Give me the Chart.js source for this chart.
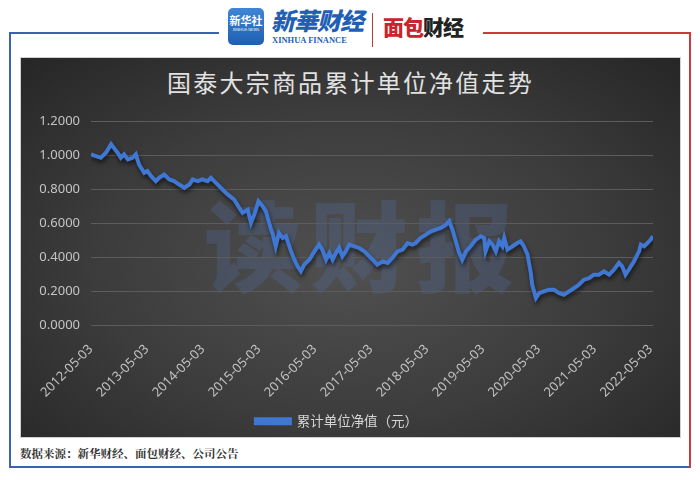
<!DOCTYPE html>
<html>
<head>
<meta charset="utf-8">
<script src="https://cdn.jsdelivr.net/npm/chart.js@4.4.0/dist/chart.umd.min.js"></script>
<style>
  body { margin: 0; width: 700px; height: 480px; background: #fff; position: relative; overflow: hidden;
         font-family: "Noto Sans CJK SC", "Noto Sans", sans-serif; }
  .line { position: absolute; }
  #panel { position: absolute; left: 20px; top: 57px; width: 661px; height: 381px; box-sizing: border-box;
           border: 1px solid #d0d0d0;
           background: radial-gradient(ellipse 70% 75% at 50% 55%, #505050 0%, #3c3c3c 55%, #272727 100%); }
  #title { position: absolute; left: 0; top: 9px; width: 100%; text-align: center; color: #e2e2e2;
           font-size: 24px; letter-spacing: 2.2px; line-height: 30px; }
  #wm { position: absolute; left: 183px; top: 133px; font-size: 98px; line-height: 100px; font-weight: 900;
        letter-spacing: 8px; color: rgba(85,125,195,0.22); white-space: nowrap; }
  #chart { position: absolute; left: 0; top: 0; }
  #source { position: absolute; left: 20px; top: 445px; font-size: 11.5px; font-weight: bold; color: #333;
            font-family: "Noto Serif CJK SC", "Noto Sans CJK SC", serif; }
  .xh { position: absolute; left: 228px; top: 8px; width: 36px; height: 37px; border-radius: 5px;
        background: linear-gradient(#3f86d6, #1e5fb0); color: #fff; text-align: center; }
</style>
</head>
<body>
<!-- frame -->
<div class="line" style="left:9px;top:32px;width:2px;height:436px;background:#3a64ad"></div>
<div class="line" style="left:9px;top:466px;width:682px;height:2px;background:#3a64ad"></div>
<div class="line" style="left:9px;top:32px;width:210px;height:2px;background:#3a64ad"></div>
<div class="line" style="left:483px;top:32px;width:208px;height:2px;background:#cc3b3b"></div>
<div class="line" style="left:689px;top:32px;width:2px;height:436px;background:#cc3b3b"></div>

<!-- header logos -->
<div class="xh"><div style="font-size:11px;font-weight:bold;line-height:14px;margin-top:5px">新华社</div>
  <div style="font-size:4px;line-height:5px">XINHUA NEWS</div></div>
<div style="position:absolute;left:271px;top:5px;font-size:24px;line-height:30px;font-weight:900;font-style:italic;color:#1f5fb4;letter-spacing:-1px">新華财经</div>
<div style="position:absolute;left:272px;top:35px;font-size:8.5px;line-height:10px;font-weight:bold;color:#1f5fb4;font-family:'Liberation Serif',serif">XINHUA FINANCE</div>
<div class="line" style="left:372px;top:13px;width:1px;height:34px;background:#b04040"></div>
<div style="position:absolute;left:383px;top:12px;font-size:21px;line-height:28px;font-weight:900;letter-spacing:-1px">
  <span style="color:#c8262c">面包</span><span style="color:#222">财经</span></div>

<div id="panel">
  <div id="title">国泰大宗商品累计单位净值走势</div>
  <div id="wm">读财报</div>
  <canvas id="chart" width="661" height="381"></canvas>
</div>
<div id="source">数据来源：新华财经、面包财经、公司公告</div>

<script>
// months since 2012-05-03
const monthOffsets = [
  0, 2.1, 3.2, 4.3, 5.7, 6.4, 7.1, 7.9, 8.9, 9.6, 10.3, 11.4, 12.1, 12.9, 13.9, 14.6, 15.7, 16.8, 17.8, 18.9,
  20.0, 21.1, 21.8, 22.9, 23.9, 25.0, 25.7, 26.8, 28.2, 29.3, 30.7, 31.8, 32.5, 33.6, 34.3, 35.0, 35.9, 36.8, 37.5, 37.9,
  38.6, 39.0, 39.6, 40.3, 41.1, 41.8, 42.9, 43.6, 44.3, 45.0, 45.7, 46.8, 47.9, 48.9, 49.6, 50.4, 51.1, 51.8, 52.5, 53.2,
  53.9, 54.6, 55.4, 56.4, 57.5, 58.6, 59.3, 60.4, 61.4, 62.5, 63.6, 64.6, 65.7, 66.8, 67.9, 68.9, 69.6, 70.7, 71.8, 72.9,
  73.9, 75.0, 76.1, 76.8, 77.5, 78.2, 78.9, 79.6, 80.4, 81.4, 82.5, 83.6, 84.3, 84.6, 85.4, 86.1, 86.8, 87.5, 88.2, 88.6,
  89.3, 90.4, 91.4, 92.1, 92.8, 93.6, 94.3, 94.6, 95.4, 96.1, 97.1, 98.2, 99.3, 100.4, 101.4, 102.5, 103.6, 104.6, 105.7, 106.8,
  107.8, 108.9, 110.0, 111.1, 112.1, 113.2, 113.9, 114.6, 115.3, 116.4, 117.5, 117.9, 118.6, 119.3, 120.0, 120.5
];
const navValues = [
  1.004, 0.984, 1.014, 1.063, 1.014, 0.984, 1.004, 0.975, 0.984, 1.004, 0.945, 0.896, 0.906, 0.876, 0.847, 0.866, 0.886, 0.857, 0.847, 0.827,
  0.808, 0.827, 0.857, 0.847, 0.857, 0.847, 0.866, 0.837, 0.798, 0.769, 0.739, 0.690, 0.661, 0.680, 0.602, 0.651, 0.729, 0.700, 0.670, 0.631,
  0.563, 0.533, 0.465, 0.543, 0.514, 0.524, 0.435, 0.386, 0.347, 0.318, 0.357, 0.386, 0.435, 0.475, 0.445, 0.386, 0.425, 0.386, 0.425, 0.455,
  0.406, 0.435, 0.475, 0.465, 0.455, 0.435, 0.416, 0.386, 0.357, 0.376, 0.367, 0.396, 0.435, 0.445, 0.484, 0.475, 0.484, 0.514, 0.533, 0.553,
  0.563, 0.573, 0.592, 0.612, 0.563, 0.494, 0.430, 0.386, 0.435, 0.465, 0.504, 0.524, 0.514, 0.435, 0.494, 0.475, 0.435, 0.494, 0.465, 0.514,
  0.445, 0.465, 0.484, 0.494, 0.465, 0.416, 0.308, 0.239, 0.161, 0.190, 0.200, 0.210, 0.210, 0.190, 0.180, 0.200, 0.220, 0.239, 0.269, 0.278,
  0.298, 0.298, 0.318, 0.298, 0.327, 0.367, 0.347, 0.298, 0.327, 0.376, 0.435, 0.475, 0.465, 0.484, 0.504, 0.524
];
const tickLabels = ['2012-05-03', '2013-05-03', '2014-05-03', '2015-05-03', '2016-05-03', '2017-05-03',
  '2018-05-03', '2019-05-03', '2020-05-03', '2021-05-03', '2022-05-03'];
const seriesName = '累计单位净值（元）';

const lineShadow = {
  id: 'lineShadow',
  beforeDatasetDraw(chart) {
    const ctx = chart.ctx;
    ctx.save();
    ctx.shadowColor = 'rgba(0,0,0,0.6)';
    ctx.shadowBlur = 4;
    ctx.shadowOffsetX = 1;
    ctx.shadowOffsetY = 3;
  },
  afterDatasetDraw(chart) {
    chart.ctx.restore();
  }
};

new Chart(document.getElementById('chart'), {
  type: 'line',
  data: {
    datasets: [{
      label: seriesName,
      data: monthOffsets.map((m, i) => ({ x: m, y: navValues[i] })),
      borderColor: '#4077d2',
      backgroundColor: '#4077d2',
      borderWidth: 4,
      pointRadius: 0,
      tension: 0
    }]
  },
  options: {
    responsive: false,
    animation: false,
    layout: { padding: { top: 63, right: 29, bottom: 1, left: 0 } },
    plugins: {
      tooltip: { enabled: false },
      legend: {
        position: 'bottom',
        labels: { color: '#d4d4d4', boxWidth: 34, boxHeight: 4, padding: 10,
                  font: { size: 13.5, family: '"Noto Sans CJK SC", sans-serif' } }
      }
    },
    scales: {
      x: {
        type: 'linear',
        min: 0,
        max: 120.5,
        grid: { display: false },
        border: { display: false },
        afterFit(scale) { scale.height = 79; },
        ticks: {
          stepSize: 12,
          includeBounds: false,
          autoSkip: false,
          minRotation: 45,
          maxRotation: 45,
          padding: 8,
          color: '#c0c0c0',
          font: { size: 13, family: '"Noto Sans", sans-serif' },
          callback: v => (v % 12 === 0 ? tickLabels[v / 12] : '')
        }
      },
      y: {
        min: 0,
        max: 1.2,
        grid: { color: '#5c5c5c', lineWidth: 1, drawTicks: false },
        border: { display: false },
        afterFit(scale) { scale.width = 70; },
        ticks: {
          stepSize: 0.2,
          padding: 11,
          color: '#c4c4c4',
          font: { size: 13, family: '"Noto Sans", sans-serif' },
          callback: v => v.toFixed(4)
        }
      }
    }
  },
  plugins: [lineShadow]
});
</script>
</body>
</html>
